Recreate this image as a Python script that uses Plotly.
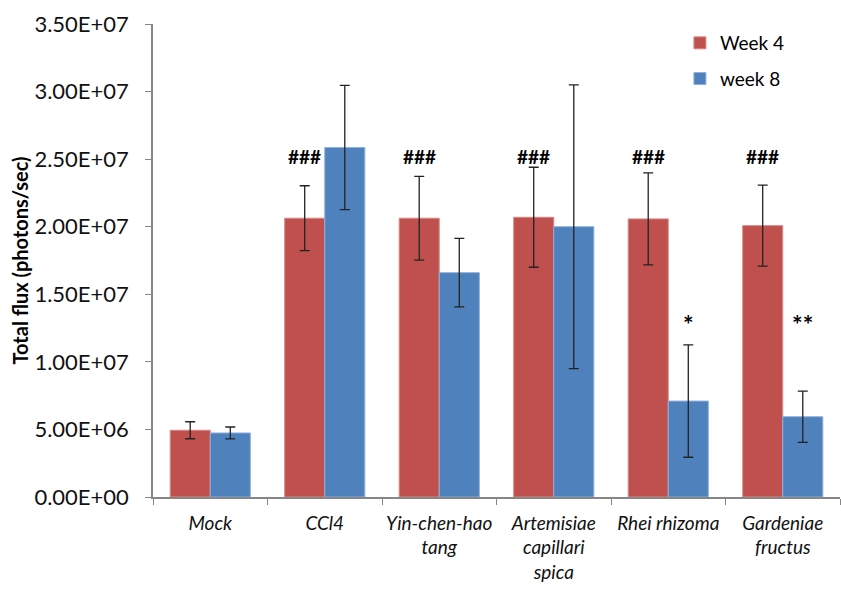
import plotly.graph_objects as go

categories = ["Mock", "CCl4", "Yin-chen-hao<br>tang", "Artemisiae<br>capillari<br>spica",
              "Rhei rhizoma", "Gardeniae<br>fructus"]
week4 = [4.94e6, 2.063e7, 2.063e7, 2.07e7, 2.058e7, 2.008e7]
week4_err = [0.63e6, 0.24e7, 0.31e7, 0.37e7, 0.34e7, 0.30e7]
week8 = [4.74e6, 2.586e7, 1.66e7, 2.0e7, 0.71e7, 0.594e7]
week8_err = [0.44e6, 0.46e7, 0.253e7, 1.05e7, 0.416e7, 0.19e7]
week4_marks = ["", "###", "###", "###", "###", "###"]
week8_marks = ["", "", "", "", "*", "**"]
mark4_y = 2.52e7
mark8_y = 1.28e7
tick_vals = [0, 5e6, 1e7, 1.5e7, 2e7, 2.5e7, 3e7, 3.5e7]
tick_text = ["0.00E+00", "5.00E+06", "1.00E+07", "1.50E+07", "2.00E+07",
             "2.50E+07", "3.00E+07", "3.50E+07"]

RED = "#C0504D"
BLUE = "#4F81BD"
FONT = "Lato"

x_labels = [f"<i>{c}</i>" for c in categories]

fig = go.Figure()
fig.add_trace(go.Bar(
    x=x_labels, y=week4, name="Week 4", marker_color=RED,
    marker_line=dict(color="#D88A88", width=1), legendgroup="a",
    error_y=dict(type="data", array=week4_err, color="#222222", thickness=1.3, width=5),
))
fig.add_trace(go.Bar(
    x=x_labels, y=week8, name="week 8", marker_color=BLUE,
    marker_line=dict(color="#8FB0DA", width=1), legendgroup="b",
    error_y=dict(type="data", array=week8_err, color="#222222", thickness=1.3, width=5),
))

bargap = 0.3
half = (1 - bargap) / 4
annotations = []
for i, (m4, m8) in enumerate(zip(week4_marks, week8_marks)):
    if m4:
        annotations.append(dict(x=i - half, y=mark4_y, xref="x", yref="y", text=f"<b>{m4}</b>",
                                showarrow=False, font=dict(family=FONT, size=19, color="black")))
    if m8:
        annotations.append(dict(x=i + half, y=mark8_y, xref="x", yref="y", text=f"<b>{m8}</b>",
                                showarrow=False, font=dict(family=FONT, size=25, color="black")))

fig.update_layout(
    width=841, height=592,
    margin=dict(l=153, r=1, t=24, b=95),
    paper_bgcolor="white", plot_bgcolor="white",
    barmode="group", bargap=bargap, bargroupgap=0,
    font=dict(family=FONT, size=19, color="black"),
    annotations=annotations,
    legend=dict(x=0.767, y=1.0, xanchor="left", yanchor="top", bgcolor="rgba(0,0,0,0)",
                font=dict(family=FONT, size=19), tracegroupgap=8, itemwidth=30),
    showlegend=True,
)
fig.update_yaxes(
    range=[0, 3.5e7], tickvals=tick_vals, ticktext=tick_text,
    showgrid=False, zeroline=False, showline=True, linecolor="#868686", linewidth=1.5,
    ticks="outside", ticklen=6, tickcolor="#868686", ticklabelstandoff=12,
    tickfont=dict(family=FONT, size=22, color="#111111"),
    title=dict(text="<b>Total flux (photons/sec)</b>", font=dict(family=FONT, size=20), standoff=0),
)
fig.update_xaxes(
    showgrid=False, showline=True, linecolor="#868686", linewidth=1.5,
    ticks="outside", ticklen=6, tickcolor="#868686", tickson="boundaries",
    ticklabelstandoff=8,
    tickfont=dict(family=FONT, size=19, color="#111111"), tickangle=0,
)

fig.write_html("out.html")
